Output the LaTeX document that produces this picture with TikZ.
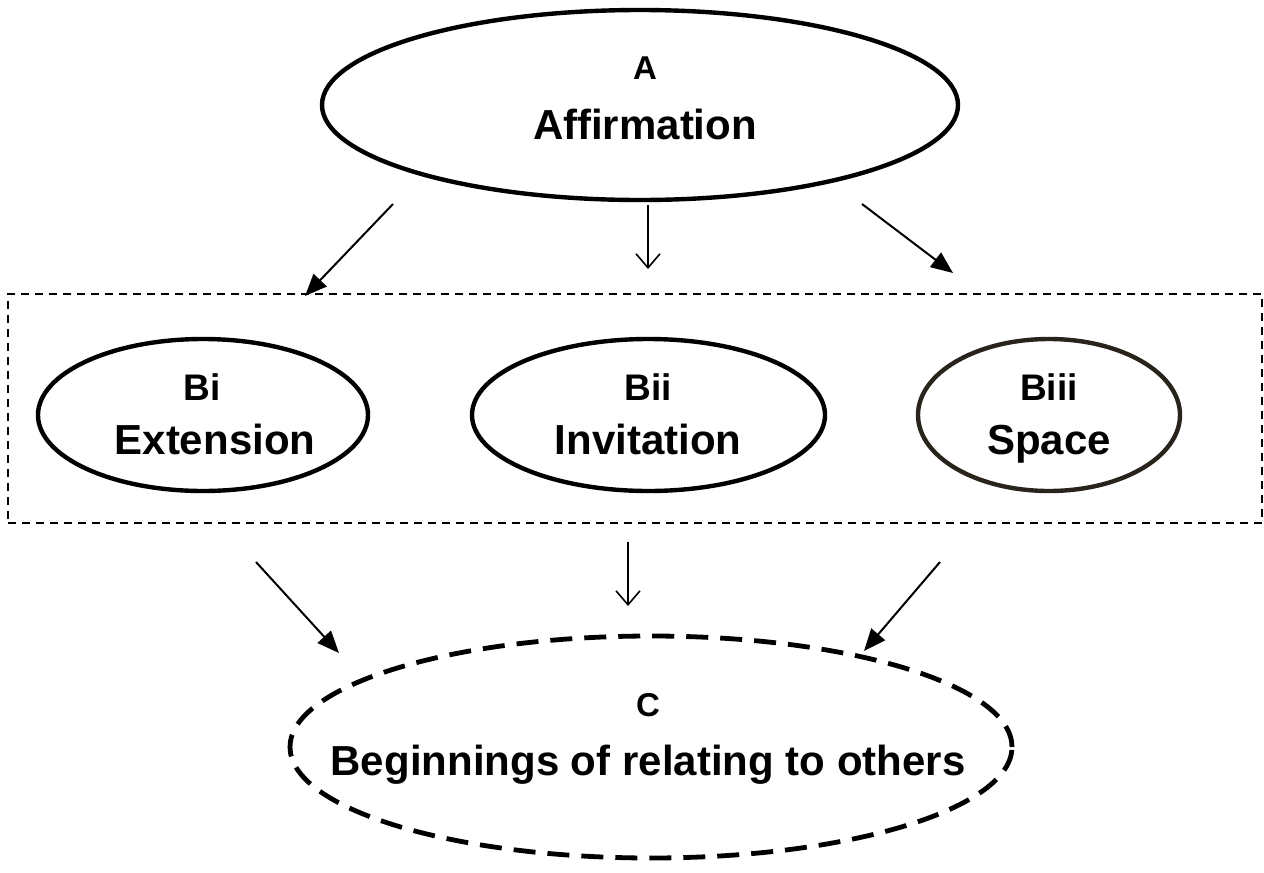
\documentclass[tikz,border=0pt]{standalone}
\usepackage{fontspec}
\setmainfont{Liberation Sans}
\usetikzlibrary{shapes.geometric,arrows.meta}
\begin{document}
\begin{tikzpicture}[x=0.5pt,y=-0.5pt,
  oval/.style={ellipse,draw=black,line width=2.2pt,inner sep=0pt},
  bigtext/.style={anchor=base,inner sep=0pt,font=\bfseries\fontsize{21}{21}\selectfont},
  tag/.style={anchor=base,inner sep=0pt,font=\bfseries\fontsize{16.5}{16.5}\selectfont},
  btag/.style={anchor=base,inner sep=0pt,font=\bfseries\fontsize{18.5}{18.5}\selectfont},
  filledarrow/.style={line width=1pt,-{Triangle[length=11pt,width=9pt]}},
  openarrow/.style={line width=1pt,-{Straight Barb[length=7pt,width=12pt,line width=0.8pt]}},
  groupbox/.style={draw=black,line width=0.8pt,dash pattern=on 4pt off 3pt}
]
\useasboundingbox (0,0) rectangle (1264,873);

% top node
\node[oval,minimum width=318pt,minimum height=95pt] (A) at (640,105) {};
\node[tag]     (Atag)  at (645,79)  {A};
\node[bigtext] (Aname) at (645,139) {Affirmation};

% grouping frame
\node[groupbox,minimum width=627pt,minimum height=114.5pt,inner sep=0pt] (group) at (635,408.5) {};

% middle row
\node[oval,minimum width=165pt,minimum height=76pt] (Bi) at (203,415) {};
\node[btag]    (Bitag)  at (202,400) {Bi};
\node[bigtext] (Biname) at (215,454) {Extension};

\node[oval,minimum width=176.5pt,minimum height=76pt] (Bii) at (648.5,415) {};
\node[btag]    (Biitag)  at (648,400) {Bii};
\node[bigtext] (Biiname) at (648,454) {Invitation};

\node[oval,draw={rgb,255:red,40;green,36;blue,28},minimum width=131pt,minimum height=76pt] (Biii) at (1049,415) {};
\node[btag]    (Biiitag)  at (1049,400) {Biii};
\node[bigtext] (Biiiname) at (1049,454) {Space};

% bottom node
\node[oval,line width=2.4pt,dash pattern=on 11pt off 6pt,minimum width=361pt,minimum height=111pt] (C) at (651,747) {};
\node[tag]     (Ctag)  at (648,716) {C};
\node[bigtext] (Cname) at (648,775) {Beginnings of relating to others};

% connector ends
\coordinate (a1s) at (393,204);  \coordinate (a1e) at (305,296);
\coordinate (a2s) at (648,205);  \coordinate (a2e) at (648,269);
\coordinate (a3s) at (862,204);  \coordinate (a3e) at (953,273);
\coordinate (b1s) at (256,562);  \coordinate (b1e) at (339,653);
\coordinate (b2s) at (628,542);  \coordinate (b2e) at (628,606);
\coordinate (b3s) at (940,562);  \coordinate (b3e) at (864,651);

\draw[filledarrow] (a1s) -- (a1e);
\draw[openarrow]   (a2s) -- (a2e);
\draw[filledarrow] (a3s) -- (a3e);
\draw[filledarrow] (b1s) -- (b1e);
\draw[openarrow]   (b2s) -- (b2e);
\draw[filledarrow] (b3s) -- (b3e);
\end{tikzpicture}
\end{document}
